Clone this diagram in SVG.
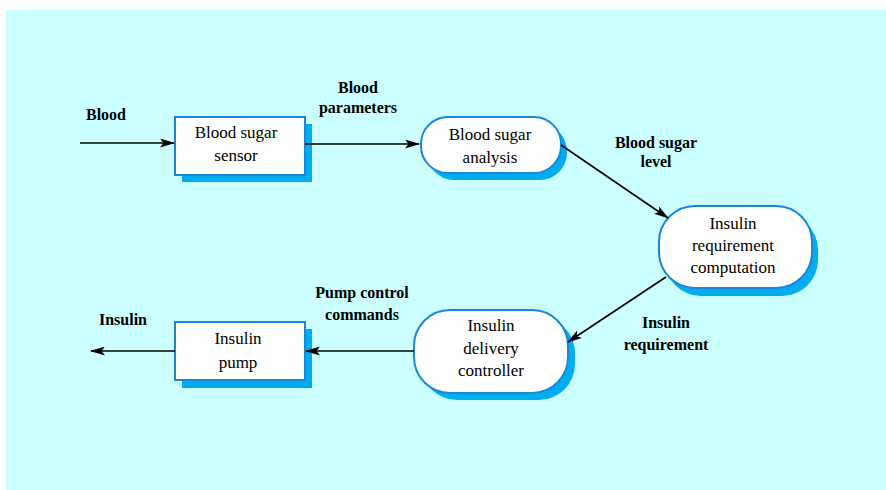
<svg xmlns="http://www.w3.org/2000/svg" width="886" height="490" viewBox="0 0 886 490">
<defs>
<marker id="ah" viewBox="0 0 15 9" refX="14" refY="4.5" markerWidth="15" markerHeight="9" markerUnits="userSpaceOnUse" orient="auto">
<path d="M0,0 L15,4.5 L0,9 L3.5,4.5 Z" fill="#000"/>
</marker>
<style>
.bg{fill:#CCFFFF}
.sh{fill:#00AEEF}
.nd{fill:#FFFFFF;stroke:#1C86D8;stroke-width:2}
.nt{font-family:"Liberation Serif","Times New Roman",serif;font-size:17px;fill:#000;text-anchor:middle}
.lb{font-family:"Liberation Serif","Times New Roman",serif;font-size:16px;font-weight:bold;fill:#000;text-anchor:middle}
.cn{stroke:#000;stroke-width:1.6;fill:none;marker-end:url(#ah)}
</style>
</defs>
<rect x="6" y="10" width="880" height="480" class="bg"/>

<g id="sensor">
<rect x="182" y="124" width="130" height="58" class="sh"/>
<rect x="175" y="117" width="130" height="58" class="nd"/>
<text x="236" y="138" class="nt">Blood sugar</text>
<text x="236" y="161" class="nt">sensor</text>
</g>

<g id="analysis">
<rect x="427" y="124" width="140" height="56" rx="27" class="sh"/>
<rect x="421" y="117" width="140" height="56" rx="27" class="nd"/>
<text x="490" y="140" class="nt">Blood sugar</text>
<text x="490" y="163" class="nt">analysis</text>
</g>

<g id="computation">
<rect x="665" y="214" width="153" height="82" rx="36" class="sh"/>
<rect x="659" y="206" width="153" height="82" rx="36" class="nd"/>
<text x="733" y="229" class="nt">Insulin</text>
<text x="733" y="251" class="nt">requirement</text>
<text x="733" y="273" class="nt">computation</text>
</g>

<g id="controller">
<rect x="421" y="317" width="154" height="83" rx="36" class="sh"/>
<rect x="414" y="310" width="154" height="83" rx="36" class="nd"/>
<text x="491" y="331" class="nt">Insulin</text>
<text x="491" y="354" class="nt">delivery</text>
<text x="491" y="376" class="nt">controller</text>
</g>

<g id="pump">
<rect x="182" y="329" width="130" height="59" class="sh"/>
<rect x="175" y="322" width="130" height="58" class="nd"/>
<text x="238" y="344" class="nt">Insulin</text>
<text x="238" y="368" class="nt">pump</text>
</g>

<g id="connectors">
<line x1="80" y1="143" x2="174" y2="143" class="cn"/>
<line x1="305" y1="144" x2="419" y2="144" class="cn"/>
<line x1="561" y1="145" x2="668" y2="218" class="cn"/>
<line x1="666" y1="277" x2="568" y2="342" class="cn"/>
<line x1="414" y1="351" x2="306" y2="351" class="cn"/>
<line x1="175" y1="351" x2="91" y2="351" class="cn"/>
</g>

<g id="labels">
<text x="106" y="120" class="lb">Blood</text>
<text x="358" y="93" class="lb">Blood</text>
<text x="358" y="113" class="lb">parameters</text>
<text x="656" y="148" class="lb">Blood sugar</text>
<text x="656" y="167" class="lb">level</text>
<text x="666" y="328" class="lb">Insulin</text>
<text x="666" y="350" class="lb">requirement</text>
<text x="362" y="298" class="lb">Pump control</text>
<text x="362" y="320" class="lb">commands</text>
<text x="123" y="325" class="lb">Insulin</text>
</g>
</svg>
